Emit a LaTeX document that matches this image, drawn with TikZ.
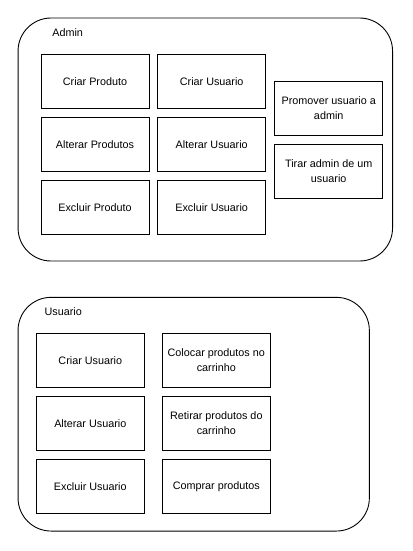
\documentclass[tikz,border=0pt]{standalone}
\usepackage{fontspec}
\setmainfont{Liberation Sans}
\begin{document}
\begin{tikzpicture}[x=1pt,y=-1pt,
    caixa/.style={draw, line width=0.9pt, minimum width=108pt, minimum height=54pt,
      inner sep=0pt, align=center, font=\fontsize{10.8}{15}\selectfont},
    grupo/.style={draw, line width=0.9pt, rounded corners=33pt, inner sep=0pt},
    rotulo/.style={inner sep=0pt, font=\fontsize{10.8}{15}\selectfont}]
  \useasboundingbox (0,0) rectangle (412,551);
  % grupo admin
  \node[grupo, minimum width=374.5pt, minimum height=243pt] (admin) at (205.3,139.5) {};
  \node[rotulo] (adminlbl) at (67.7,32.7) {Admin};
  \node[caixa] (criarprod) at (95,81.3) {Criar Produto};
  \node[caixa] (criarusu) at (211.7,81.3) {Criar Usuario};
  \node[caixa] (altprod) at (95,144.3) {Alterar Produtos};
  \node[caixa] (altusu) at (211.7,144.3) {Alterar Usuario};
  \node[caixa] (excprod) at (95,207.3) {Excluir Produto};
  \node[caixa] (excusu) at (211.7,207.3) {Excluir Usuario};
  \node[caixa] (promover) at (328.7,108.3) {Promover usuario a\\admin};
  \node[caixa] (tirar) at (328.7,171.3) {Tirar admin de um\\usuario};
  % grupo usuario
  \node[grupo, minimum width=351.3pt, minimum height=233.7pt] (usuario) at (193.7,414.2) {};
  \node[rotulo] (usuariolbl) at (63.3,311.7) {Usuario};
  \node[caixa] (ucriar) at (90.3,360.3) {Criar Usuario};
  \node[caixa] (colocar) at (216.3,360.3) {Colocar produtos no\\carrinho};
  \node[caixa] (ualterar) at (90.3,423.3) {Alterar Usuario};
  \node[caixa] (retirar) at (216.3,423.3) {Retirar produtos do\\carrinho};
  \node[caixa] (uexcluir) at (90.3,486.3) {Excluir Usuario};
  \node[caixa] (comprar) at (216.3,486.3) {Comprar produtos};
\end{tikzpicture}
\end{document}
